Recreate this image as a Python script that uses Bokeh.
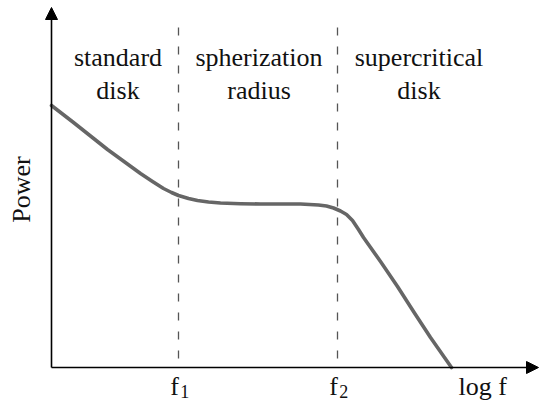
import math
from bokeh.plotting import figure
from bokeh.models import Range1d, Arrow, NormalHead
from bokeh.core.properties import value
from bokeh.embed import file_html
from bokeh.resources import INLINE

curve_x = [0.00, 0.22, 0.56, 0.89, 1.01, 1.12, 1.20, 1.27, 1.37, 1.46, 1.57, 1.69, 1.89,
           2.09, 2.49, 2.67, 2.75, 2.82, 2.89, 2.95, 3.01, 3.07, 3.12, 3.29, 3.46,
           3.62, 3.79, 4.00]
curve_y = [2.62, 2.45, 2.18, 1.94, 1.86, 1.79, 1.75, 1.72, 1.69, 1.67, 1.655, 1.645, 1.638,
           1.635, 1.635, 1.625, 1.615, 1.595, 1.565, 1.53, 1.47, 1.38, 1.30, 1.06, 0.81,
           0.56, 0.30, 0.00]
break_x = [1.27, 2.86]
break_names = ["f", "f"]
break_subs = ["1", "2"]
region_x = [0.665, 2.075, 3.675]
region_line1 = ["standard", "spherization", "supercritical"]
region_line2 = ["disk", "radius", "disk"]
x_axis_name = "log f"
y_axis_name = "Power"

# ---- layout ----
W, H = 539, 400
x0, x1 = -0.51, -0.51 + W / 100.0
y1, y0 = 3.67, 3.67 - H / 100.0

p = figure(width=W, height=H, output_backend="svg", toolbar_location=None,
           x_range=Range1d(x0, x1), y_range=Range1d(y0, y1),
           min_border=0, x_axis_type=None, y_axis_type=None)
p.grid.visible = False
p.outline_line_color = None
p.background_fill_color = "white"
p.border_fill_color = "white"

FONT = value("Liberation Serif")
INK = "#111111"

# dashed region boundaries
p.segment(x0=break_x, y0=[3.40] * 2, x1=break_x, y1=[0.02] * 2,
          line_color="#555555", line_width=1.3, line_dash="8 11")

# spectrum curve
p.line(curve_x, curve_y, line_color="#666666", line_width=3.6,
       line_join="round", line_cap="round")

# axes with arrow heads
p.add_layout(Arrow(x_start=0, y_start=0, x_end=0, y_end=3.60,
                   line_color="black", line_width=1.6,
                   end=NormalHead(size=12, fill_color="black", line_color="black", line_width=1)))
p.add_layout(Arrow(x_start=0, y_start=0, x_end=4.87, y_end=0,
                   line_color="black", line_width=1.6,
                   end=NormalHead(size=12, fill_color="black", line_color="black", line_width=1)))

# region labels
p.text(x=region_x, y=[3.10] * 3, text=region_line1, text_font=FONT,
       text_font_size="26px", text_align="center", text_baseline="alphabetic",
       text_color=INK)
p.text(x=region_x, y=[2.77] * 3, text=region_line2, text_font=FONT,
       text_font_size="26px", text_align="center", text_baseline="alphabetic",
       text_color=INK)

# break labels f1, f2
p.text(x=[b - 0.04 for b in break_x], y=[-0.19] * 2, text=break_names, text_font=FONT,
       text_font_size="26px", text_align="center", text_baseline="alphabetic",
       text_color=INK)
p.text(x=[b + 0.062 for b in break_x], y=[-0.235] * 2, text=break_subs, text_font=FONT,
       text_font_size="18px", text_align="center", text_baseline="alphabetic",
       text_color=INK)

# axis names
p.text(x=[4.07], y=[-0.19], text=[x_axis_name], text_font=FONT,
       text_font_size="26px", text_align="left", text_baseline="alphabetic",
       text_color=INK)
p.text(x=[-0.30], y=[1.78], text=[y_axis_name], text_font=FONT,
       text_font_size="26px", text_align="center", text_baseline="alphabetic",
       angle=math.pi / 2, text_color=INK)

open("out.html", "w").write(file_html(p, INLINE))
